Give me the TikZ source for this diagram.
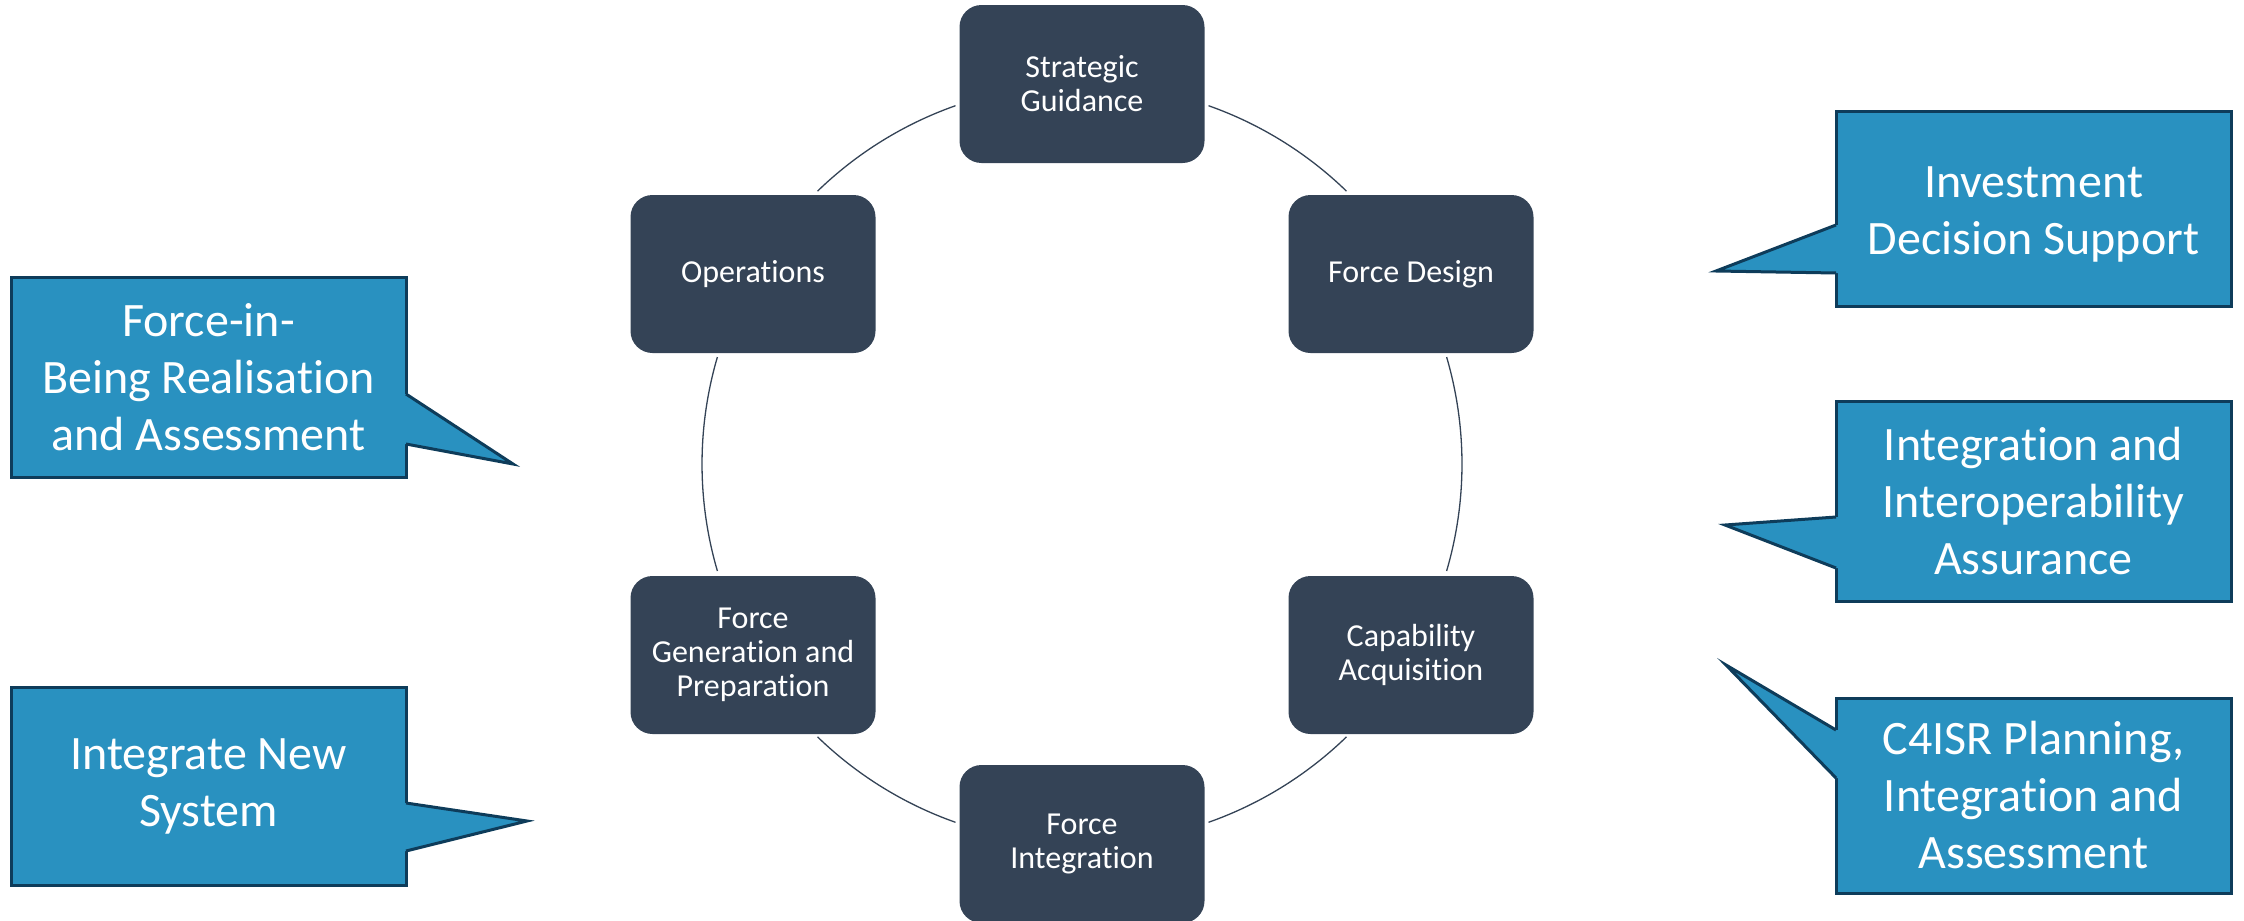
\documentclass[tikz,border=0pt]{standalone}
\usepackage{fontspec}
\setmainfont{Carlito}[Ligatures=NoCommon]
\usetikzlibrary{calc}
\definecolor{nodefill}{HTML}{344356}
\definecolor{callfill}{HTML}{2991C0}
\definecolor{callline}{HTML}{0E3C5A}
\begin{document}
\begin{tikzpicture}[x=1pt,y=-1pt,
  stage/.style={rounded corners=22pt, fill=nodefill, text=white, minimum width=245pt,
    minimum height=158pt, align=center, inner sep=0pt, outer sep=0pt,
    font=\fontsize{32}{34}\selectfont},
  callbox/.style={fill=callfill, draw=callline, line width=3pt, text=white,
    minimum width=395pt, align=center, inner sep=0pt, outer sep=0pt,
    font=\fontsize{48}{57}\selectfont},
  ring/.style={draw=nodefill, line width=1.3pt},
  ptrfill/.style={fill=callfill},
  ptrline/.style={draw=callline, line width=3pt, line join=miter}
]
\useasboundingbox (0,0) rectangle (2244,921);

% ring of stages
\coordinate (ctr) at (1082,464);
\node[stage] (sg) at (1082,84)  {Strategic\\Guidance};
\node[stage] (fd) at (1411,274) {Force Design};
\node[stage] (ca) at (1411,655) {Capability\\Acquisition};
\node[stage] (fi) at (1082,844) {Force\\Integration};
\node[stage] (fg) at (753,655)  {Force\\Generation and\\Preparation};
\node[stage] (op) at (753,274)  {Operations};

\draw[ring] ([shift={(70.55:380pt)}]ctr) arc[start angle=70.55, end angle=45.9, radius=380pt];
\draw[ring] ([shift={(16.35:380pt)}]ctr) arc[start angle=16.35, end angle=-16.35, radius=380pt];
\draw[ring] ([shift={(-45.9:380pt)}]ctr) arc[start angle=-45.9, end angle=-70.55, radius=380pt];
\draw[ring] ([shift={(-109.45:380pt)}]ctr) arc[start angle=-109.45, end angle=-134.1, radius=380pt];
\draw[ring] ([shift={(196.35:380pt)}]ctr) arc[start angle=196.35, end angle=163.65, radius=380pt];
\draw[ring] ([shift={(134.1:380pt)}]ctr) arc[start angle=134.1, end angle=109.45, radius=380pt];

% callouts, right side
\node[callbox, minimum height=195pt] (ids) at (2033.5,208.5) {\raisebox{-6pt}[\height][\depth]{\begin{tabular}{@{}c@{}}Investment\\Decision Support\end{tabular}}};
\coordinate (ids-tip) at (1716,271);
\fill[ptrfill] ($(ids.north west)+(4,114)$) -- ($(ids.north west)+(0,114)$) -- (ids-tip) -- ($(ids.north west)+(0,162)$) -- ($(ids.north west)+(4,162)$) -- cycle;
\draw[ptrline] ($(ids.north west)+(0,114)$) -- (ids-tip) -- ($(ids.north west)+(0,162)$);

\node[callbox, minimum height=200pt] (iia) at (2033.5,501) {Integration and\\Interoperability\\Assurance};
\coordinate (iia-tip) at (1725,525);
\fill[ptrfill] ($(iia.north west)+(4,116)$) -- ($(iia.north west)+(0,116)$) -- (iia-tip) -- ($(iia.north west)+(0,167)$) -- ($(iia.north west)+(4,167)$) -- cycle;
\draw[ptrline] ($(iia.north west)+(0,116)$) -- (iia-tip) -- ($(iia.north west)+(0,167)$);

\node[callbox, minimum height=195pt] (c4) at (2033.5,795.5) {C4ISR Planning,\\Integration and\\Assessment};
\coordinate (c4-tip) at (1726,665);
\fill[ptrfill] ($(c4.north west)+(4,32)$) -- ($(c4.north west)+(0,32)$) -- (c4-tip) -- ($(c4.north west)+(0,80)$) -- ($(c4.north west)+(4,80)$) -- cycle;
\draw[ptrline] ($(c4.north west)+(0,32)$) -- (c4-tip) -- ($(c4.north west)+(0,80)$);

% callouts, left side
\node[callbox, minimum height=200pt] (fib) at (208.5,377) {Force-in-\\Being Realisation\\and Assessment};
\coordinate (fib-tip) at (513,464);
\fill[ptrfill] ($(fib.north east)+(-4,117)$) -- ($(fib.north east)+(0,117)$) -- (fib-tip) -- ($(fib.north east)+(0,167)$) -- ($(fib.north east)+(-4,167)$) -- cycle;
\draw[ptrline] ($(fib.north east)+(0,117)$) -- (fib-tip) -- ($(fib.north east)+(0,167)$);

\node[callbox, minimum height=198pt] (ins) at (208.5,786) {Integrate New\\System};
\coordinate (ins-tip) at (527,821);
\fill[ptrfill] ($(ins.north east)+(-4,116)$) -- ($(ins.north east)+(0,116)$) -- (ins-tip) -- ($(ins.north east)+(0,164)$) -- ($(ins.north east)+(-4,164)$) -- cycle;
\draw[ptrline] ($(ins.north east)+(0,116)$) -- (ins-tip) -- ($(ins.north east)+(0,164)$);
\end{tikzpicture}
\end{document}
